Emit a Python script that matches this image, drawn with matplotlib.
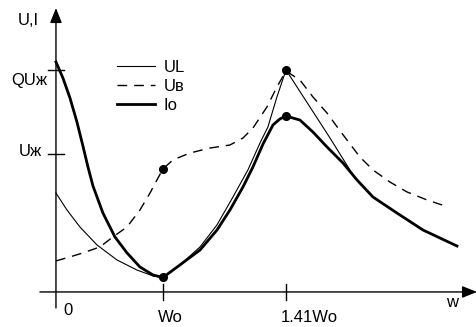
import matplotlib

matplotlib.use("Agg")
import matplotlib.pyplot as plt

plt.rcParams["font.family"] = ["Liberation Sans", "DejaVu Sans"]

# x in units of Wo (the sketch's axis is not to scale), y in units of Uж
io_x = [0.0, 0.065, 0.131, 0.196, 0.252, 0.299, 0.346, 0.439, 0.551, 0.664, 0.785, 0.907,
        1.0, 1.159, 1.346, 1.505, 1.626, 1.748, 1.841, 1.935, 2.028, 2.093, 2.150, 2.280,
        2.402, 2.533, 2.682, 2.813, 2.963, 3.187, 3.430, 3.748]
io_y = [1.667, 1.551, 1.406, 1.232, 1.058, 0.906, 0.768, 0.572, 0.399, 0.283, 0.181, 0.123,
        0.105, 0.196, 0.304, 0.449, 0.594, 0.761, 0.906, 1.072, 1.210, 1.254, 1.275, 1.246,
        1.159, 1.051, 0.935, 0.812, 0.688, 0.572, 0.449, 0.333]

ul_x = [0.0, 0.103, 0.224, 0.383, 0.570, 0.757, 0.907, 1.0, 1.159, 1.346, 1.505, 1.654,
        1.794, 1.907, 1.981, 2.065, 2.150, 2.561, 2.794, 2.963, 3.187, 3.430, 3.748]
ul_y = [0.717, 0.594, 0.471, 0.341, 0.232, 0.159, 0.116, 0.105, 0.196, 0.326, 0.486, 0.688,
        0.884, 1.080, 1.196, 1.413, 1.609, 1.116, 0.826, 0.688, 0.572, 0.449, 0.333]

ub_x = [0.0, 0.131, 0.252, 0.411, 0.533, 0.664, 0.785, 0.879, 0.944, 1.0, 1.093, 1.252,
        1.439, 1.626, 1.748, 1.841, 1.972, 2.065, 2.150, 2.280, 2.402, 2.533, 2.636, 2.720,
        2.841, 2.963, 3.121, 3.280, 3.467, 3.664]
ub_y = [0.225, 0.254, 0.283, 0.326, 0.399, 0.471, 0.594, 0.717, 0.812, 0.891, 0.957, 1.007,
        1.043, 1.065, 1.116, 1.188, 1.341, 1.486, 1.601, 1.536, 1.413, 1.297, 1.188, 1.101,
        0.978, 0.884, 0.797, 0.725, 0.667, 0.616]

dot_x = [1.0, 1.0, 2.15, 2.15]
dot_y = [0.105, 0.891, 1.609, 1.275]

x_ticks = [1.0, 2.15]
x_tick_labels = ["Wo", "1.41Wo"]
y_ticks = [1.609, 1.0]
y_tick_labels = ["QUж", "Uж"]

fig = plt.figure(figsize=(4.77, 3.27), dpi=100)
ax = fig.add_axes([0, 0, 1, 1])
ax.set_xlim(-0.523, 3.935)
ax.set_ylim(-0.254, 2.116)
ax.axis("off")

# hand-drawn style axes with arrow heads
arrow = dict(arrowstyle="-|>,head_length=0.5,head_width=0.2", color="black", lw=1.0,
             shrinkA=0, shrinkB=0, mutation_scale=18)
ax.annotate("", xy=(0, 2.058), xytext=(0, -0.116), arrowprops=arrow)
ax.annotate("", xy=(3.935, 0), xytext=(-0.150, 0), arrowprops=arrow)

for t in x_ticks:
    ax.plot([t, t], [-0.058, 0.058], color="black", lw=1.0)
for t in y_ticks:
    ax.plot([-0.075, 0.075], [t, t], color="black", lw=1.0)

ax.plot(ul_x, ul_y, color="black", lw=0.8, label="UL")
ax.plot(ub_x, ub_y, color="black", lw=1.0, dashes=(7, 5), label="Uв")
ax.plot(io_x, io_y, color="black", lw=2.0, label="Io", solid_joinstyle="round")
ax.plot(dot_x, dot_y, "o", color="black", ms=5.5, zorder=5)

fs = 12
ax.text(-0.262, 1.971, "U,I", fontsize=fs, ha="center", va="center")
ax.text(-0.084, y_ticks[0] - 0.08, y_tick_labels[0], fontsize=fs, ha="right", va="center")
ax.text(-0.131, y_ticks[1] + 0.02, y_tick_labels[1], fontsize=fs, ha="right", va="center")
ax.text(0.112, -0.138, "0", fontsize=fs, ha="center", va="center")
ax.text(x_ticks[0] + 0.065, -0.188, x_tick_labels[0], fontsize=fs, ha="center", va="center")
ax.text(x_ticks[1] + 0.215, -0.188, x_tick_labels[1], fontsize=fs, ha="center", va="center")
ax.text(3.701, -0.080, "w", fontsize=fs, ha="center", va="center")

ax.legend(loc="upper left", bbox_to_anchor=(117 / 477, 1 - 60 / 327), frameon=False,
          fontsize=fs, handlelength=2.3, handletextpad=0.5, labelspacing=0.25,
          borderpad=0, borderaxespad=0)

fig.savefig("out.png", dpi=100)
